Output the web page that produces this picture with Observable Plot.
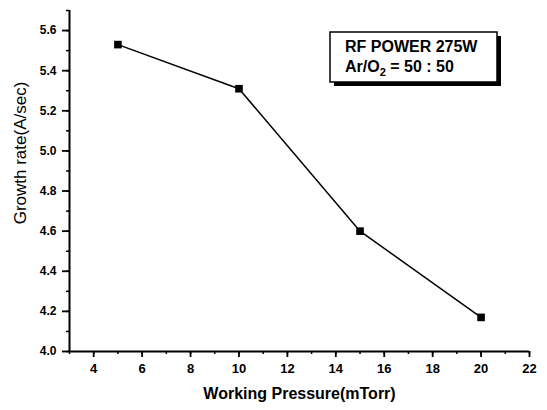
<!DOCTYPE html>
<html><head><meta charset="utf-8">
<script src="https://cdn.jsdelivr.net/npm/d3@7"></script>
<script src="https://cdn.jsdelivr.net/npm/@observablehq/plot@0.6"></script>
<style>body{margin:0;background:#fff;} svg{font-family:"Liberation Sans",Arial,sans-serif;}</style>
</head><body><div id="chart"></div>
<script>
const pressure = [5, 10, 15, 20];
const growthRate = [5.53, 5.31, 4.60, 4.17];
const xTicks = [4, 6, 8, 10, 12, 14, 16, 18, 20, 22];
const xMinorTicks = d3.range(3, 23, 1);
const yTicks = [4.0, 4.2, 4.4, 4.6, 4.8, 5.0, 5.2, 5.4, 5.6];
const yMinorTicks = d3.range(40, 58, 1).map(v => v / 10);
const xLabel = "Working Pressure(mTorr)";
const yLabel = "Growth rate(A/sec)";
const legendLine1 = "RF POWER 275W";

const data = pressure.map((p, i) => ({p, g: growthRate[i]}));

const chart = Plot.plot({
  width: 547,
  height: 410,
  marginLeft: 69,
  marginRight: 18,
  marginTop: 10,
  marginBottom: 59,
  x: {domain: [3, 22]},
  y: {domain: [4.0, 5.7]},
  style: {fontFamily: "Liberation Sans, Arial, sans-serif", background: "white"},
  marks: [
    Plot.axisX({ticks: xMinorTicks, tickSize: 3, text: null, strokeWidth: 1.5, label: null}),
    Plot.axisX({ticks: xTicks, tickSize: 6, tickPadding: 6, strokeWidth: 1.8, fontSize: 13, fontWeight: "bold", label: null, tickFormat: d => d}),
    Plot.axisY({ticks: yMinorTicks, tickSize: 3, text: null, strokeWidth: 1.5, label: null}),
    Plot.axisY({ticks: yTicks, tickSize: 7, tickPadding: 6, strokeWidth: 1.8, fontSize: 12, fontWeight: "bold", label: null, tickFormat: d3.format(".1f")}),
    Plot.ruleY([4.0], {strokeWidth: 2}),
    Plot.ruleX([3], {strokeWidth: 2}),
    Plot.line(data, {x: "p", y: "g", stroke: "black", strokeWidth: 1.5}),
    Plot.dot(data, {x: "p", y: "g", symbol: "square", r: 4.3, fill: "black", stroke: "none"}),
    Plot.text([xLabel], {frameAnchor: "bottom", dy: 42, fontSize: 16, fontWeight: "bold", lineAnchor: "middle", text: d => d})
  ]
});

document.getElementById("chart").appendChild(chart);

const svg = d3.select(chart);
// y-axis title
svg.append("text")
  .attr("transform", "translate(26,153) rotate(-90)")
  .attr("text-anchor", "middle")
  .attr("font-size", 17)
  .attr("fill", "black")
  .text(yLabel);

// legend box annotation
const g = svg.append("g").attr("text-anchor", "start");
g.append("rect").attr("x", 334).attr("y", 36).attr("width", 167).attr("height", 50).attr("fill", "black");
g.append("rect").attr("x", 330).attr("y", 32).attr("width", 167).attr("height", 50).attr("fill", "white").attr("stroke", "black").attr("stroke-width", 1.5);
g.append("text").attr("x", 345).attr("y", 52).attr("font-size", 16).attr("font-weight", "bold").attr("fill", "black").text(legendLine1);
const t2 = g.append("text").attr("x", 345).attr("y", 72).attr("font-size", 16).attr("font-weight", "bold").attr("fill", "black");
t2.append("tspan").text("Ar/O");
t2.append("tspan").attr("font-size", 11).attr("dy", 4).text("2");
t2.append("tspan").attr("dy", -4).text(" = 50 : 50");
</script>
</body></html>
